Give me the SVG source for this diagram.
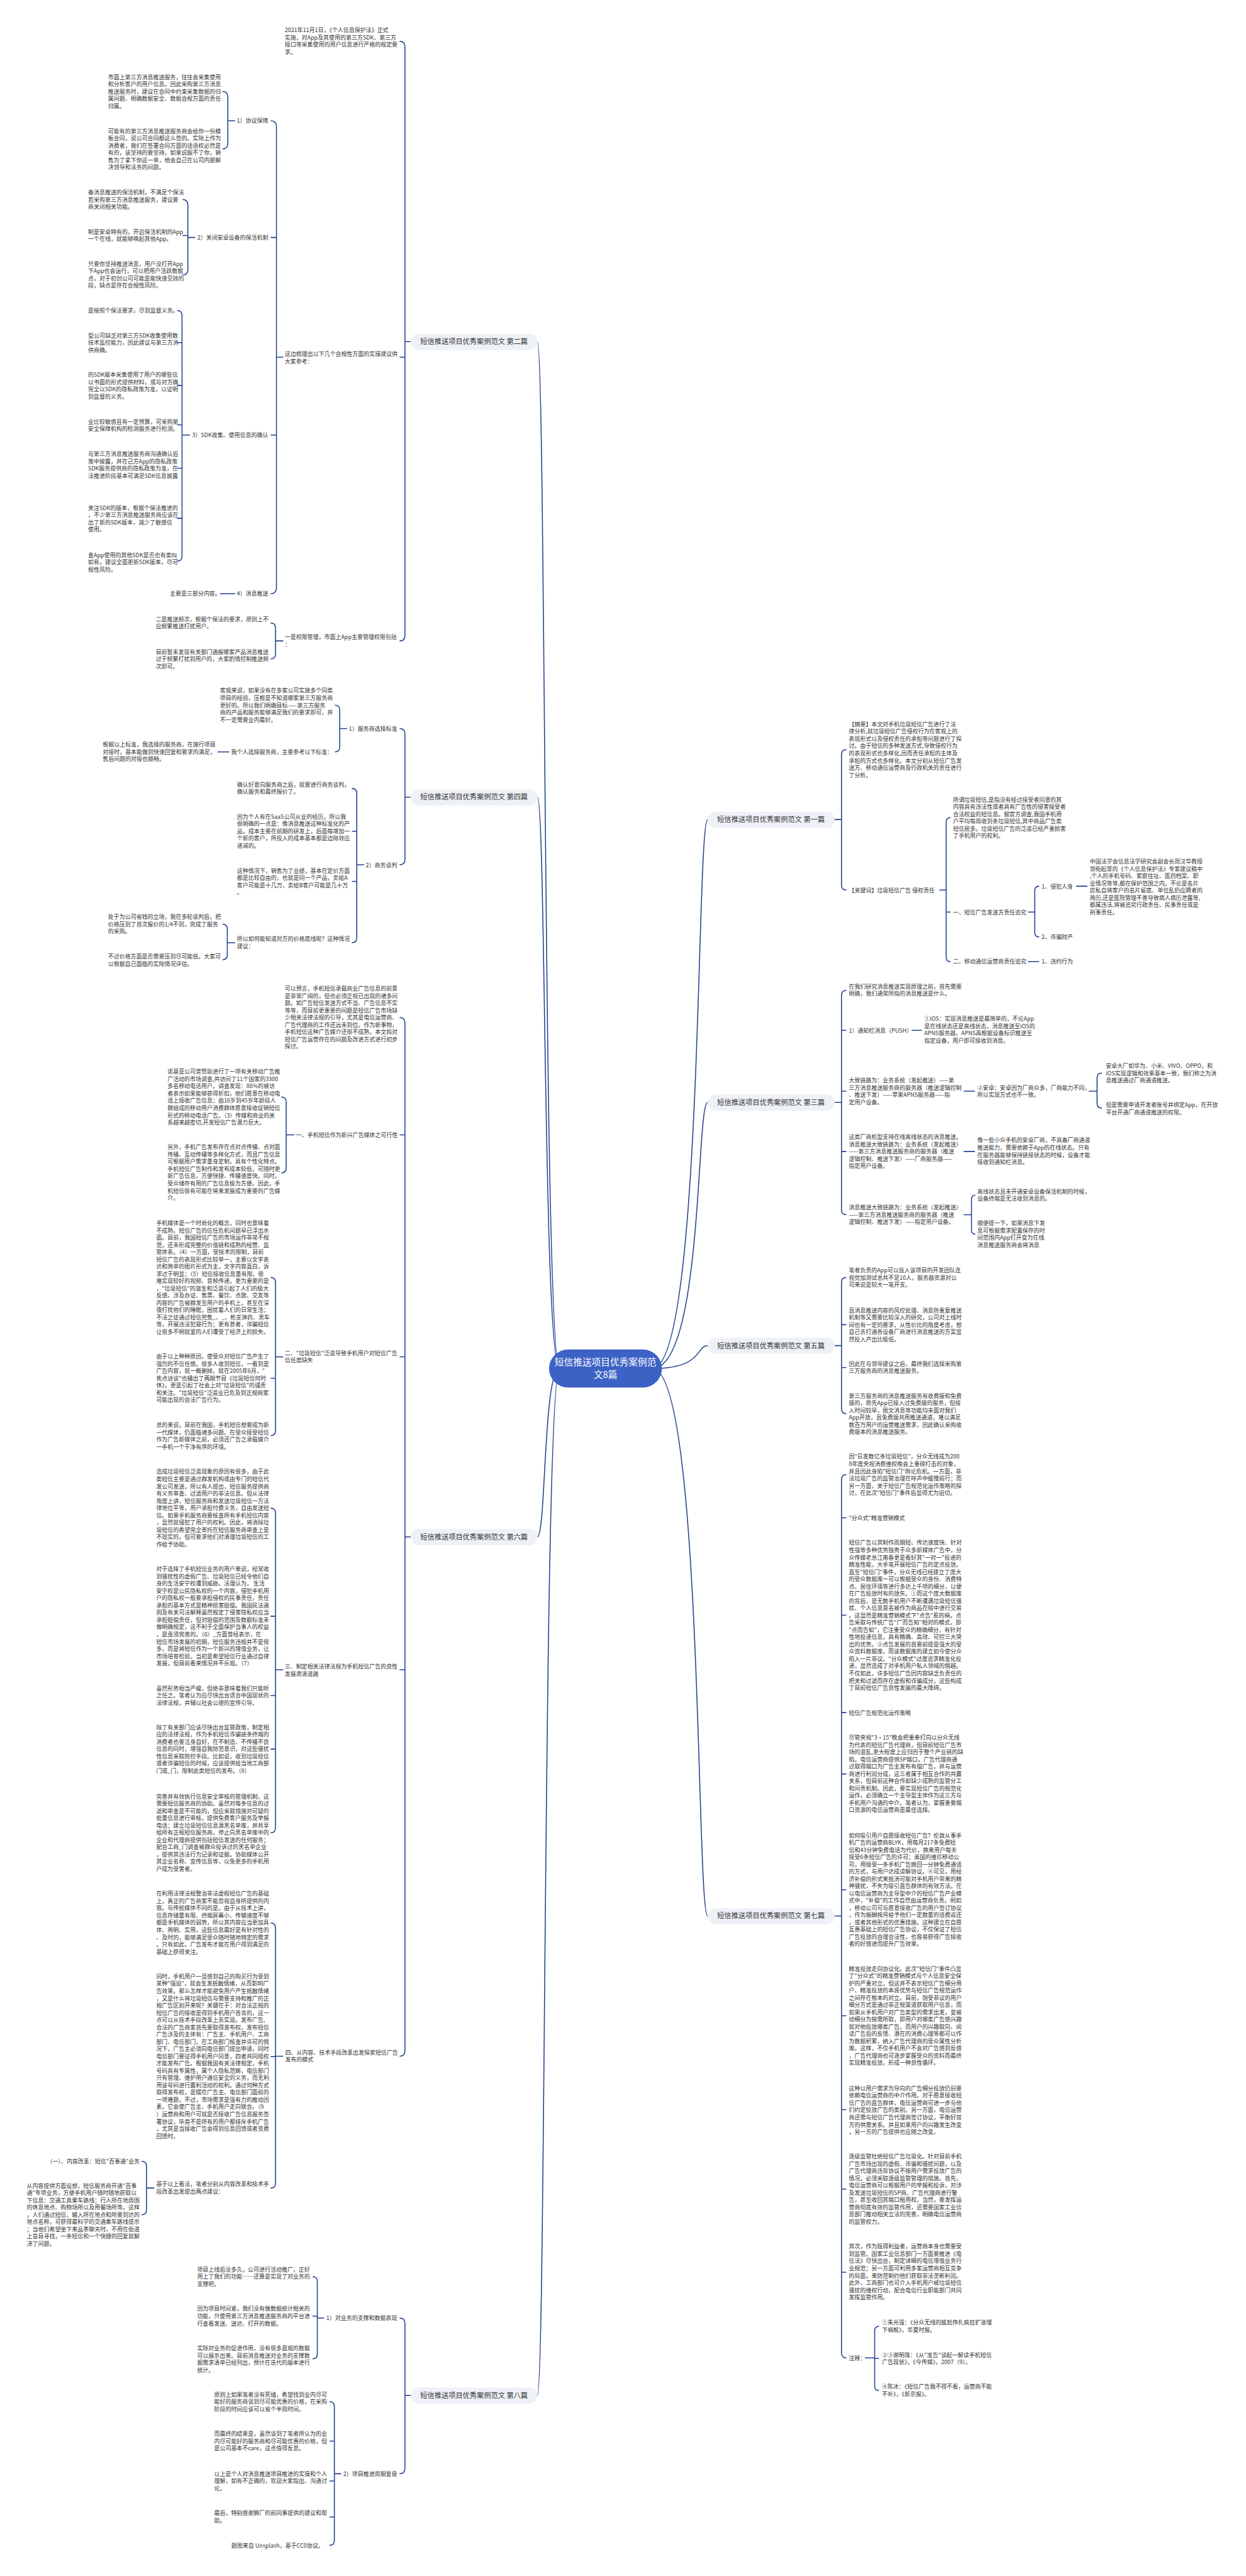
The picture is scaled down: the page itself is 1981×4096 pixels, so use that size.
<svg xmlns="http://www.w3.org/2000/svg" width="1981" height="4096" viewBox="0 0 1981 4096">
<style>
.t{font-family:"Noto Sans CJK SC","Noto Sans",sans-serif;font-size:11.6px;fill:#333}
.e{text-anchor:end}
.b{font-family:"Noto Sans CJK SC","Noto Sans",sans-serif;font-size:14.5px;fill:#333;text-anchor:middle}
.c{font-family:"Noto Sans CJK SC","Noto Sans",sans-serif;font-size:19px;fill:#fff;text-anchor:middle}
.ln{fill:none;stroke:#22418f;stroke-width:2}
.nd{fill:#eef1f6}
</style>
<rect width="1981" height="4096" fill="#fff"/>
<g transform="scale(0.77383)">
<g id="connectors" class="ln">
<path d="M1104,702 C1122,702 1116,2812 1150,2812"/>
<path d="M1104,1638 C1122,1638 1116,2812 1150,2812"/>
<path d="M1104,3158 C1122,3158 1116,2812 1150,2812"/>
<path d="M1104,4922 C1122,4922 1116,2812 1150,2812"/>
<path d="M1340,2812 C1445,2812 1430,1684 1454,1684"/>
<path d="M1340,2812 C1445,2812 1430,2265 1454,2265"/>
<path d="M1340,2812 C1445,2812 1430,2765 1454,2765"/>
<path d="M1340,2812 C1445,2812 1430,3937 1454,3937"/>
<path d="M821,85 Q832,85 832,96 V1306 Q832,1317 821,1317 M821,734 H832 M832,702 H844"/>
<path d="M556,248 Q568,248 568,260 V1208 Q568,1220 556,1220 M556,488 H568 M556,894 H568 M568,734 H582"/>
<path d="M457,188 Q468,188 468,199 V295 Q468,306 457,306 M468,248 H483"/>
<path d="M375,410 Q386,410 386,421 V554 Q386,565 375,565 M375,484 H386 M386,488 H401"/>
<path d="M364,638 Q374,638 374,648 V1143 Q374,1153 364,1153 M364,704 H374 M364,792 H374 M364,873 H374 M364,962 H374 M364,1065 H374 M374,894 H390"/>
<path d="M452,1220 H483"/>
<path d="M556,1280 Q566,1280 566,1290 V1344 Q566,1354 556,1354 M566,1317 H582"/>
<path d="M821,1497 Q832,1497 832,1508 V1766 Q832,1777 821,1777 M832,1638 H844"/>
<path d="M688,1449 Q698,1449 698,1459 V1535 Q698,1545 688,1545 M698,1497 H713"/>
<path d="M447,1545 H471"/>
<path d="M723,1620 Q733,1620 733,1630 V1927 Q733,1937 723,1937 M723,1708 H733 M723,1811 H733 M733,1777 H748"/>
<path d="M457,1899 Q467,1899 467,1909 V1962 Q467,1972 457,1972 M467,1937 H483"/>
<path d="M821,2091 Q832,2091 832,2102 V4214 Q832,4225 821,4225 M821,2332 H832 M821,2788 H832 M821,3431 H832 M832,3158 H844"/>
<path d="M578,2254 Q588,2254 588,2264 V2400 Q588,2410 578,2410 M588,2332 H605"/>
<path d="M556,2625 Q566,2625 566,2635 V2940 Q566,2950 556,2950 M556,2832 H566 M566,2788 H582"/>
<path d="M556,3099 Q566,3099 566,3109 V3756 Q566,3766 556,3766 M556,3321 H566 M556,3484 H566 M556,3594 H566 M566,3431 H582"/>
<path d="M556,3951 Q566,3951 566,3961 V4486 Q566,4496 556,4496 M556,4226 H566 M566,4225 H582"/>
<path d="M291,4441 Q301,4441 301,4451 V4541 Q301,4551 291,4551 M301,4496 H317"/>
<path d="M821,4763 Q832,4763 832,4774 V5072 Q832,5083 821,5083 M832,4922 H844"/>
<path d="M642,4678 Q652,4678 652,4688 V4837 Q652,4847 642,4847 M642,4759 H652 M652,4763 H666"/>
<path d="M677,4935 Q687,4935 687,4945 V5220 Q687,5230 677,5230 M677,5016 H687 M677,5098 H687 M677,5172 H687 M687,5083 H701"/>
<path d="M1739,1540 Q1729,1540 1729,1550 V1819 Q1729,1829 1739,1829 M1715,1684 H1729"/>
<path d="M1953,1680 Q1944,1680 1944,1689 V1967 Q1944,1976 1953,1976 M1944,1874 H1953 M1930,1829 H1944"/>
<path d="M2135,1821 Q2126,1821 2126,1830 V1916 Q2126,1925 2135,1925 M2112,1874 H2126"/>
<path d="M2211,1821 H2234 M2112,1976 H2135"/>
<path d="M1739,2035 Q1729,2035 1729,2045 V2486 Q1729,2496 1739,2496 M1729,2117 H1739 M1729,2242 H1739 M1729,2366 H1739 M1715,2265 H1729"/>
<path d="M1873,2117 H1894 M1980,2242 H2003 M1980,2366 H2003"/>
<path d="M2264,2205 Q2254,2205 2254,2215 V2267 Q2254,2277 2264,2277 M2237,2242 H2254"/>
<path d="M2004,2456 Q1996,2456 1996,2464 V2528 Q1996,2536 2004,2536 M1980,2496 H1996"/>
<path d="M1739,2625 Q1729,2625 1729,2635 V2895 Q1729,2905 1739,2905 M1729,2722 H1739 M1729,2810 H1739 M1715,2765 H1729"/>
<path d="M1739,3030 Q1729,3030 1729,3040 V4835 Q1729,4845 1739,4845 M1729,3119 H1739 M1729,3319 H1739 M1729,3519 H1739 M1729,3645 H1739 M1729,3883 H1739 M1729,4142 H1739 M1729,4335 H1739 M1729,4498 H1739 M1729,4669 H1739 M1715,3937 H1729"/>
<path d="M1806,4780 Q1797,4780 1797,4789 V4903 Q1797,4912 1806,4912 M1797,4846 H1806 M1777,4845 H1797"/>
</g>

<g id="center"><rect x="1128" y="2773" width="232" height="78" rx="39" fill="#3d62c6"/>
<text class="c" x="1244" y="2806">短信推送项目优秀案例范<tspan x="1244" dy="25">文8篇</tspan></text></g>

<g id="b2"><rect class="nd" x="844" y="686" width="260" height="33" rx="16"/><text class="b" x="974" y="707.5">短信推送项目优秀案例范文 第二篇</text></g>
<g id="b4"><rect class="nd" x="844" y="1622" width="260" height="33" rx="16"/><text class="b" x="974" y="1643">短信推送项目优秀案例范文 第四篇</text></g>
<g id="b6"><rect class="nd" x="844" y="3142" width="260" height="33" rx="16"/><text class="b" x="974" y="3163">短信推送项目优秀案例范文 第六篇</text></g>
<g id="b8"><rect class="nd" x="844" y="4906" width="260" height="33" rx="16"/><text class="b" x="974" y="4927">短信推送项目优秀案例范文 第八篇</text></g>
<g id="b1"><rect class="nd" x="1454" y="1668" width="261" height="33" rx="16"/><text class="b" x="1584" y="1689">短信推送项目优秀案例范文 第一篇</text></g>
<g id="b3"><rect class="nd" x="1454" y="2249" width="261" height="33" rx="16"/><text class="b" x="1584" y="2270">短信推送项目优秀案例范文 第三篇</text></g>
<g id="b5"><rect class="nd" x="1454" y="2749" width="261" height="33" rx="16"/><text class="b" x="1584" y="2770">短信推送项目优秀案例范文 第五篇</text></g>
<g id="b7"><rect class="nd" x="1454" y="3921" width="261" height="33" rx="16"/><text class="b" x="1584" y="3942">短信推送项目优秀案例范文 第七篇</text></g>

<g id="p2" class="t">
<text x="585" y="66.4">2021年11月1日，《个人信息保护法》正式<tspan x="585" dy="14.9">实施，对App及其使用的第三方SDK、第三方</tspan><tspan x="585" dy="14.9">接口等采集使用的用户信息进行严格的规定要</tspan><tspan x="585" dy="14.9">求。</tspan></text>
<text x="585" y="731.4">这边梳理出以下几个合规性方面的实操建议供<tspan x="585" dy="14.9">大家参考：</tspan></text>
<text x="585" y="1313.4">一是权限管理，市面上App主要管理权限包括<tspan x="585" dy="14.9">：</tspan></text>
<text class="e" x="551" y="252.4">1）协议保障</text>
<text class="e" x="551" y="492.4">2）关闭安卓设备的保活机制</text>
<text class="e" x="551" y="898.4">3）SDK收集、使用信息的确认</text>
<text class="e" x="551" y="1224.4">4）消息推送</text>
<text x="222" y="162.4">市面上第三方消息推送服务，往往会采集使用<tspan x="222" dy="14.9">和分析客户的用户信息。因此采购第三方消息</tspan><tspan x="222" dy="14.9">推送服务时，建议在合同中约束采集数据的归</tspan><tspan x="222" dy="14.9">属问题、明确数据安全、数据合规方面的责任</tspan><tspan x="222" dy="14.9">归属。</tspan></text>
<text x="222" y="273.4">可能有的第三方消息推送服务商会给你一份模<tspan x="222" dy="14.9">板合同，说公司合同都这么签的。实际上作为</tspan><tspan x="222" dy="14.9">消费者，我们在签署合同方面的话语权必然是</tspan><tspan x="222" dy="14.9">有的，该坚持的要坚持，如果说服不了你，销</tspan><tspan x="222" dy="14.9">售为了拿下你这一单，他会自己在公司内部解</tspan><tspan x="222" dy="14.9">决领导和法务的问题。</tspan></text>
<text x="181" y="399.4">备消息推送的保活机制，不满足个保法<tspan x="181" dy="14.9">若采购第三方消息推送服务，建议要</tspan><tspan x="181" dy="14.9">商关闭相关功能。</tspan></text>
<text x="181" y="480.4">制是安卓特有的，开启保活机制的App<tspan x="181" dy="14.9">一个在线，就能够唤起其他App。</tspan></text>
<text x="181" y="546.4">只要你坚持推送消息，用户没打开App<tspan x="181" dy="14.9">下App也会运行，可以把用户活跃数据</tspan><tspan x="181" dy="14.9">点，对于初创公司可能是能快速见效的</tspan><tspan x="181" dy="14.9">段，缺点是存在合规性风险。</tspan></text>
<text x="181" y="642.4">是按照个保法要求，尽到监督义务。</text>
<text x="181" y="693.4">型公司缺乏对第三方SDK收集使用数<tspan x="181" dy="14.9">技术监控能力，因此建议与第三方消</tspan><tspan x="181" dy="14.9">供商确。</tspan></text>
<text x="181" y="774.4">的SDK版本采集使用了用户的哪些信<tspan x="181" dy="14.9">以书面的形式提供材料，或与对方确</tspan><tspan x="181" dy="14.9">完全以SDK的隐私政策为准，以证明</tspan><tspan x="181" dy="14.9">到监督的义务。</tspan></text>
<text x="181" y="870.4">业比较敏感且有一定预算，可采购第<tspan x="181" dy="14.9">安全保障机构的检测服务进行检测。</tspan></text>
<text x="181" y="937.4">与第三方消息推送服务商沟通确认后<tspan x="181" dy="14.9">策中披露，并在己方App的隐私政策</tspan><tspan x="181" dy="14.9">SDK服务提供商的隐私政策为准，在</tspan><tspan x="181" dy="14.9">法推进阶段基本可满足SDK信息披露</tspan></text>
<text x="181" y="1047.4">关注SDK的版本，根据个保法推进的<tspan x="181" dy="14.9">，不少第三方消息推送服务商应该在</tspan><tspan x="181" dy="14.9">出了新的SDK版本，减少了敏感信</tspan><tspan x="181" dy="14.9">使用。</tspan></text>
<text x="181" y="1144.4">查App使用的其他SDK是否也有类似<tspan x="181" dy="14.9">如有，建议全面更新SDK版本，尽可</tspan><tspan x="181" dy="14.9">规性风险。</tspan></text>
<text x="349" y="1224.4">主要是三部分内容。</text>
<text x="320" y="1276.4">二是推送频次，根据个保法的要求，原则上不<tspan x="320" dy="14.9">应频繁推送打扰用户。</tspan></text>
<text x="320" y="1343.4">目前暂未发现有关部门通报哪家产品消息推送<tspan x="320" dy="14.9">过于频繁打扰到用户的，大家酌情控制推送频</tspan><tspan x="320" dy="14.9">次即可。</tspan></text>
</g>

<g id="p4" class="t">
<text class="e" x="816" y="1501.4">1）服务商选择标准</text>
<text class="e" x="816" y="1781.4">2）商务谈判</text>
<text x="452" y="1423.4">客观来说，如果没有在多家公司实施多个同类<tspan x="452" dy="14.9">项目的经验，压根是不知道哪家第三方服务商</tspan><tspan x="452" dy="14.9">更好的。所以我们明确目标——第三方服务</tspan><tspan x="452" dy="14.9">商的产品和服务能够满足我们的要求即可，并</tspan><tspan x="452" dy="14.9">不一定需要业内最好。</tspan></text>
<text x="475" y="1549.4">我个人选择服务商，主要参考以下标准：</text>
<text x="211" y="1534.4">根据以上标准，我选择的服务商，在施行项目<tspan x="211" dy="14.9">对接时，基本能做到快速回复和要求的满足，</tspan><tspan x="211" dy="14.9">售后问题的对接也顺畅。</tspan></text>
<text x="487" y="1616.4">确认好意向服务商之后，就要进行商务谈判，<tspan x="487" dy="14.9">确认服务和最终报价了。</tspan></text>
<text x="487" y="1682.4">因为个人有在SaaS公司从业的经历，所以我<tspan x="487" dy="14.9">很明确的一点是：像消息推送这种标准化的产</tspan><tspan x="487" dy="14.9">品，成本主要在前期的研发上，后面每增加一</tspan><tspan x="487" dy="14.9">个新的客户，所投入的成本基本都是边际效应</tspan><tspan x="487" dy="14.9">递减的。</tspan></text>
<text x="487" y="1793.4">这种情况下，销售为了业绩，基本在定价方面<tspan x="487" dy="14.9">都是比较自由的，也就是同一个产品，卖给A</tspan><tspan x="487" dy="14.9">客户可能是十几万，卖给B客户可能是几十万</tspan><tspan x="487" dy="14.9">。</tspan></text>
<text x="487" y="1933.4">所以如何能知道对方的价格底线呢？这种情况<tspan x="487" dy="14.9">建议：</tspan></text>
<text x="222" y="1888.4">处于为公司省钱的立场，我在多轮谈判后，把<tspan x="222" dy="14.9">价格压到了首次报价的1/4不到，完成了服务</tspan><tspan x="222" dy="14.9">的采购。</tspan></text>
<text x="222" y="1969.4">不过价格方面是否需要压到尽可能低，大家可<tspan x="222" dy="14.9">以根据自己面临的实际情况评估。</tspan></text>
</g>

<g id="p6" class="t">
<text x="585" y="2035.4">可以预言，手机短信承载商业广告信息的前景<tspan x="585" dy="14.9">是非常广阔的，但也必须正视已出现的诸多问</tspan><tspan x="585" dy="14.9">题。如广告短信发送方式不当、广告信息不实</tspan><tspan x="585" dy="14.9">等等，而目前更重要的问题是短信广告市场缺</tspan><tspan x="585" dy="14.9">少相关法律法规的引导，尤其是电信运营商、</tspan><tspan x="585" dy="14.9">广告代理商的工作还远未到位。作为新事物，</tspan><tspan x="585" dy="14.9">手机短信这种广告媒介还很不成熟，本文拟对</tspan><tspan x="585" dy="14.9">短信广告运营存在的问题及改进方式进行初步</tspan><tspan x="585" dy="14.9">探讨。</tspan></text>
<text class="e" x="817" y="2336.4">一、手机短信作为新兴广告媒体之可行性</text>
<text x="344" y="2206.4">诺基亚公司曾赞助进行了一项有关移动广告推<tspan x="344" dy="14.9">广活动的市场调查,共访问了11个国家的3300</tspan><tspan x="344" dy="14.9">多名移动电话用户。调查发现：86%的被访</tspan><tspan x="344" dy="14.9">者表示如果能够获得折扣，他们愿意在移动电</tspan><tspan x="344" dy="14.9">话上接收广告信息；由16岁到45岁年龄段人</tspan><tspan x="344" dy="14.9">群组成的移动用户消费群体愿意接收促销短信</tspan><tspan x="344" dy="14.9">形式的移动电话广告。（3）传媒和商业的关</tspan><tspan x="344" dy="14.9">系越来越密切,开发短信广告潜力巨大。</tspan></text>
<text x="344" y="2361.4">另外，手机广告发布存在点对点传播、点对面<tspan x="344" dy="14.9">传播、互动传播等多样化方式，而且广告信息</tspan><tspan x="344" dy="14.9">可根据用户需求量身定制，具有个性化特点。</tspan><tspan x="344" dy="14.9">手机短信广告制作和发布成本较低，可随时更</tspan><tspan x="344" dy="14.9">新广告信息，方便快捷、传播速度快。同时，</tspan><tspan x="344" dy="14.9">受众储存有用的广告信息极为方便。因此，手</tspan><tspan x="344" dy="14.9">机短信很有可能在将来发展成为重要的广告媒</tspan><tspan x="344" dy="14.9">介。</tspan></text>
<text x="585" y="2784.4">二、"垃圾短信"泛滥导致手机用户对短信广告<tspan x="585" dy="14.9">信任度缺失</tspan></text>
<text x="321" y="2517.4">手机媒体是一个时尚化的概念，同时也意味着<tspan x="321" dy="14.9">不成熟。短信广告的信任危机问题早已浮出水</tspan><tspan x="321" dy="14.9">面。目前，我国短信广告的市场运作非常不规</tspan><tspan x="321" dy="14.9">范，还未形成完整的价值链和成熟的经营、监</tspan><tspan x="321" dy="14.9">管体系。（4）一方面，受技术的限制，目前</tspan><tspan x="321" dy="14.9">短信广告的表现形式比较单一，主要以文字表</tspan><tspan x="321" dy="14.9">达和简单的图片形式为主，文字内容直白，诉</tspan><tspan x="321" dy="14.9">求过于明显；（5）短信接收信息量有限，很</tspan><tspan x="321" dy="14.9">难实现较好的视频、音频传递。更为重要的是</tspan><tspan x="321" dy="14.9">，"垃圾短信"的滋生和泛滥引起了人们的极大</tspan><tspan x="321" dy="14.9">反感。涉及办证、售票、餐饮、点歌、交友等</tspan><tspan x="321" dy="14.9">内容的广告被群发至用户的手机上，甚至在深</tspan><tspan x="321" dy="14.9">夜打扰他们的睡眠，困扰着人们的日常生活；</tspan><tspan x="321" dy="14.9">不法之徒通过短信兜售_、_、枪支弹药、黑车</tspan><tspan x="321" dy="14.9">等，开展违法犯罪行为；更有甚者，诈骗短信</tspan><tspan x="321" dy="14.9">让很多不明就里的人们遭受了经济上的损失。</tspan></text>
<text x="321" y="2791.4">由于以上种种原因，使受众对短信广告产生了<tspan x="321" dy="14.9">强烈的不信任感。很多人收到短信，一看到是</tspan><tspan x="321" dy="14.9">广告内容，就一概删掉。就在2005年6月，"</tspan><tspan x="321" dy="14.9">焦点访谈"也播出了两期节目《垃圾短信何时</tspan><tspan x="321" dy="14.9">休》，更是引起了社会上对"垃圾短信"的谴责</tspan><tspan x="321" dy="14.9">和关注。"垃圾短信"泛滥业已危及到正规商家</tspan><tspan x="321" dy="14.9">可能出现的合法广告行为。</tspan></text>
<text x="321" y="2932.4">总的来说，目前在我国，手机短信想要成为新<tspan x="321" dy="14.9">一代媒体，仍面临诸多问题。在受众接受短信</tspan><tspan x="321" dy="14.9">作为广告新媒体之前，必须还广告之承载媒介</tspan><tspan x="321" dy="14.9">一手机一个干净有序的环境。</tspan></text>
<text x="585" y="3428.4">三、制定相关法律法规为手机短信广告的良性<tspan x="585" dy="14.9">发展肃清道路</tspan></text>
<text x="321" y="3028.4">造成垃圾短信泛滥现象的原因有很多，由于此<tspan x="321" dy="14.9">类短信主要是通过群发机构或由专门的短信代</tspan><tspan x="321" dy="14.9">发公司发送，所以有人提出，短信服务提供商</tspan><tspan x="321" dy="14.9">有义务审查、过滤用户的非法信息。但从法律</tspan><tspan x="321" dy="14.9">角度上讲，短信服务商和发送垃圾短信一方法</tspan><tspan x="321" dy="14.9">律地位平等，用户承担付费义务，自由发送短</tspan><tspan x="321" dy="14.9">信。如果手机服务商要核查所有手机短信内容</tspan><tspan x="321" dy="14.9">，显然就侵犯了用户的权利。因此，将消除垃</tspan><tspan x="321" dy="14.9">圾短信的希望完全寄托在短信服务商审查上是</tspan><tspan x="321" dy="14.9">不现实的，但可要求他们对清理垃圾短信的工</tspan><tspan x="321" dy="14.9">作给予协助。</tspan></text>
<text x="321" y="3228.4">对于选择了手机短信业务的用户来说，经常收<tspan x="321" dy="14.9">到骚扰性的虚假广告、垃圾短信已经令他们自</tspan><tspan x="321" dy="14.9">身的生活安宁权遭到威胁。法理认为， 生活</tspan><tspan x="321" dy="14.9">安宁权是公民隐私权的一个内容。侵犯手机用</tspan><tspan x="321" dy="14.9">户的隐私权一般要承担侵权的民事责任，责任</tspan><tspan x="321" dy="14.9">承担的基本方式是精神损害赔偿。我国民法通</tspan><tspan x="321" dy="14.9">则及有关司法解释虽然规定了侵害隐私权应当</tspan><tspan x="321" dy="14.9">承担赔偿责任，但对赔偿的范围及数额标准未</tspan><tspan x="321" dy="14.9">做明确规定，这不利于全面保护当事人的权益</tspan><tspan x="321" dy="14.9">，是亟须完善的。（6）_方面曾经表示，在</tspan><tspan x="321" dy="14.9">短信市场发展的初期，短信服务违规并不是很</tspan><tspan x="321" dy="14.9">多，而是将短信作为一个新兴的增值业务，让</tspan><tspan x="321" dy="14.9">市场培育检验。当初是希望短信行业通过自律</tspan><tspan x="321" dy="14.9">发展，但目前看来情况并不乐观。（7）</tspan></text>
<text x="321" y="3473.4">虽然形势相当严峻，但绝非意味着我们只能听<tspan x="321" dy="14.9">之任之。笔者认为应尽快出台适合中国现状的</tspan><tspan x="321" dy="14.9">法律法规，并辅以社会公德的宣传引导。</tspan></text>
<text x="321" y="3553.4">除了有关部门应该尽快出台监管政策，制定相<tspan x="321" dy="14.9">应的法律法规，作为手机短信诈骗链条终端的</tspan><tspan x="321" dy="14.9">消费者也要洁身自好，在不制造、不传播不良</tspan><tspan x="321" dy="14.9">信息的同时，增强自我防范意识，对这些骚扰</tspan><tspan x="321" dy="14.9">性信息采取防控手段。比如说，收到垃圾短信</tspan><tspan x="321" dy="14.9">或者诈骗短信的时候，应该提供给当地工商部</tspan><tspan x="321" dy="14.9">门或_门，限制此类短信的发布。（8）</tspan></text>
<text x="321" y="3695.4">完善并有效执行信息安全审核的管理机制，这<tspan x="321" dy="14.9">需要短信服务商的协助。虽然对每条信息的过</tspan><tspan x="321" dy="14.9">滤和审查是不可能的，但应采取措施对可疑的</tspan><tspan x="321" dy="14.9">批量信息进行审核，提供免费客户服务及举报</tspan><tspan x="321" dy="14.9">电话；建立垃圾短信信息源黑名单库，并共享</tspan><tspan x="321" dy="14.9">给所有正规短信服务商，停止向黑名单库中的</tspan><tspan x="321" dy="14.9">企业和代理商提供包括短信发送的任何服务；</tspan><tspan x="321" dy="14.9">配合工商_门调查被群众投诉过的黑名单企业</tspan><tspan x="321" dy="14.9">，提供其违法行为记录和证据。协助媒体公开</tspan><tspan x="321" dy="14.9">其企业名称、宣传信息等，以免更多的手机用</tspan><tspan x="321" dy="14.9">户成为受害者。</tspan></text>
<text x="586" y="4221.4">四、从内容、技术手段改革出发探索短信广告<tspan x="586" dy="14.9">发布的模式</tspan></text>
<text x="321" y="3895.4">在利用法律法规整治非法虚假短信广告的基础<tspan x="321" dy="14.9">上，真正的广告商家不能忽视自身所提供的内</tspan><tspan x="321" dy="14.9">容。与传统媒体不同的是，由于从技术上讲，</tspan><tspan x="321" dy="14.9">信息存储量有限、终端屏幕小、传输速度不够</tspan><tspan x="321" dy="14.9">都是手机媒体的弱势，所以其内容应当更加具</tspan><tspan x="321" dy="14.9">体、简明、实用，这些信息最好是有针对性的</tspan><tspan x="321" dy="14.9">、及时的，能够满足受众随时随地特定的需求</tspan><tspan x="321" dy="14.9">。只有如此，广告发布才能在用户得到满足的</tspan><tspan x="321" dy="14.9">基础上获得关注。</tspan></text>
<text x="321" y="4065.4">同时，手机用户一旦感到自己的购买行为受到<tspan x="321" dy="14.9">某种"强迫"，就会生发抵触情绪，从而影响广</tspan><tspan x="321" dy="14.9">告效果。那么怎样才能避免用户产生抵触情绪</tspan><tspan x="321" dy="14.9">，又是什么将垃圾短信与需要支持和推广的正</tspan><tspan x="321" dy="14.9">规广告区别开来呢？关键在于：对合法正规的</tspan><tspan x="321" dy="14.9">短信广告的接收是得到手机用户首肯的，这一</tspan><tspan x="321" dy="14.9">点可以从技术手段改革上去实现。发布广告,</tspan><tspan x="321" dy="14.9">合法的广告商家首先要取得发布权。发布短信</tspan><tspan x="321" dy="14.9">广告涉及的主体有：广告主、手机用户、工商</tspan><tspan x="321" dy="14.9">部门、电信部门，在工商部门核查并许可的情</tspan><tspan x="321" dy="14.9">况下，广告主必须向电信部门提出申请，同时</tspan><tspan x="321" dy="14.9">电信部门要征得手机用户同意，四者共同授权</tspan><tspan x="321" dy="14.9">才能发布广告。根据我国有关法律规定，手机</tspan><tspan x="321" dy="14.9">号码具有专属性，属个人隐私范畴，电信部门</tspan><tspan x="321" dy="14.9">只有管理、维护用户通信安全的义务，而无利</tspan><tspan x="321" dy="14.9">用该号码进行赢利活动的权利。通过何种方式</tspan><tspan x="321" dy="14.9">取得发布权，是摆在广告主、电信部门面前的</tspan><tspan x="321" dy="14.9">一项难题，不过，市场需求是强有力的推动因</tspan><tspan x="321" dy="14.9">素，它会使广告主、手机用户走向联合。（9</tspan><tspan x="321" dy="14.9">）运营商和用户可就是否接收广告信息服务签</tspan><tspan x="321" dy="14.9">署协议，毕竟不是所有的用户都排斥手机广告</tspan><tspan x="321" dy="14.9">，尤其是当接收广告会得到信息回馈或者资费</tspan><tspan x="321" dy="14.9">回馈时。</tspan></text>
<text x="321" y="4492.4">基于以上看法，笔者分别从内容改革和技术手<tspan x="321" dy="14.9">段改革出发提出两点建议：</tspan></text>
<text class="e" x="287" y="4445.4">（一）、内容改革：短信"百事通"业务</text>
<text x="55" y="4495.4">从内容提供方面设想，短信服务商开通"百事<tspan x="55" dy="14.9">通"专项业务，方便手机用户随时随地获取以</tspan><tspan x="55" dy="14.9">下信息：交通工具乘车路线；行人所在地周围</tspan><tspan x="55" dy="14.9">的休息地点、购物场所以及用餐场所等。这样</tspan><tspan x="55" dy="14.9">，人们通过短信，输入所在地点和所要到达的</tspan><tspan x="55" dy="14.9">地点名称，可获得最科学的交通乘车路线提示</tspan><tspan x="55" dy="14.9">；当他们希望坐下来品茶聊天时，不用在街道</tspan><tspan x="55" dy="14.9">上盲目寻找，一条短信和一个快捷的回复就解</tspan><tspan x="55" dy="14.9">决了问题。</tspan></text>
</g>

<g id="p8" class="t">
<text class="e" x="816" y="4767.4">1）对业务的支撑和数据表现</text>
<text class="e" x="816" y="5087.4">2）项目推进周期复盘</text>
<text x="405" y="4667.4">项目上线后没多久，公司进行活动推广，正好<tspan x="405" dy="14.9">用上了我们的功能……还算是实现了对业务的</tspan><tspan x="405" dy="14.9">支撑吧。</tspan></text>
<text x="405" y="4748.4">因为项目时间紧，我们没有做数据统计相关的<tspan x="405" dy="14.9">功能，只使用第三方消息推送服务商的平台进</tspan><tspan x="405" dy="14.9">行查看发送、送达、打开的数据。</tspan></text>
<text x="405" y="4829.4">实际对业务的促进作用，没有很多直观的数据<tspan x="405" dy="14.9">可以展示出来。目前消息推送对业务的支撑数</tspan><tspan x="405" dy="14.9">据需求清单已经列出，预计在迭代的版本进行</tspan><tspan x="405" dy="14.9">统计。</tspan></text>
<text x="440" y="4924.4">原则上如果笔者没有死磕，希望找到业内尽可<tspan x="440" dy="14.9">能好的服务商谈到尽可能优惠的价格，在采购</tspan><tspan x="440" dy="14.9">阶段的时间应该可以省个半周时间。</tspan></text>
<text x="440" y="5005.4">而最终的结果是，虽然谈到了笔者所认为的业<tspan x="440" dy="14.9">内尽可能好的服务商和尽可能优惠的价格，但</tspan><tspan x="440" dy="14.9">是公司基本不care，这点值得反思。</tspan></text>
<text x="440" y="5087.4">以上是个人对消息推送项目推进的实操和个人<tspan x="440" dy="14.9">理解，如有不正确的，欢迎大家指出、沟通讨</tspan><tspan x="440" dy="14.9">论。</tspan></text>
<text x="440" y="5168.4">最后，特别感谢狮厂的前同事提供的建议和帮<tspan x="440" dy="14.9">助。</tspan></text>
<text class="e" x="665" y="5234.4">题图来自 Unsplash，基于CC0协议。</text>
</g>

<g id="p1" class="t">
<text x="1744" y="1492.4">【摘要】本文对手机垃圾短信广告进行了法<tspan x="1744" dy="14.9">律分析,就垃圾短信广告侵权行为在客观上的</tspan><tspan x="1744" dy="14.9">表现形式以及侵权责任的承担等问题进行了探</tspan><tspan x="1744" dy="14.9">讨。由于短信的多种发送方式,导致侵权行为</tspan><tspan x="1744" dy="14.9">的表现形式也多样化,因而责任承担的主体及</tspan><tspan x="1744" dy="14.9">承担的方式也多样化。本文分别从短信广告发</tspan><tspan x="1744" dy="14.9">送方、移动通信运营商及行政机关的责任进行</tspan><tspan x="1744" dy="14.9">了分析。</tspan></text>
<text x="1744" y="1833.4">【关键词】垃圾短信广告 侵权责任</text>
<text x="1958" y="1647.4">所谓垃圾短信,是指没有经过接受者同意的其<tspan x="1958" dy="14.9">内容具有违法性或者具有广告性的侵害接受者</tspan><tspan x="1958" dy="14.9">合法权益的短信息。据官方调查,我国手机用</tspan><tspan x="1958" dy="14.9">户平均每周收到条垃圾短信,其中商品广告类</tspan><tspan x="1958" dy="14.9">短信居多。垃圾短信广告的泛滥已经严重损害</tspan><tspan x="1958" dy="14.9">了手机用户的权利。</tspan></text>
<text x="1958" y="1878.4">一、短信广告发送方责任追究</text>
<text x="1958" y="1980.4">二、移动通信运营商责任追究</text>
<text x="2140" y="1825.4">1、侵犯人身</text>
<text x="2140" y="1929.4">2、诈骗财产</text>
<text x="2140" y="1980.4">1、违约行为</text>
<text x="2239" y="1774.4">中国法学会信息法学研究会副会长周汉华教授<tspan x="2239" dy="14.9">领衔起草的《个人信息保护法》专家建议稿中</tspan><tspan x="2239" dy="14.9">,个人的手机号码、家庭住址、医药档案、职</tspan><tspan x="2239" dy="14.9">业情况等等,都在保护范围之内。不论是名片</tspan><tspan x="2239" dy="14.9">店私自将客户的名片留底、单位乱扔应聘者的</tspan><tspan x="2239" dy="14.9">简历,还是医院管理不善导致病人病历泄露等,</tspan><tspan x="2239" dy="14.9">都属违法,将被追究行政责任、民事责任或是</tspan><tspan x="2239" dy="14.9">刑事责任。</tspan></text>
</g>

<g id="p3" class="t">
<text x="1744" y="2031.4">在我们研究消息推送实现原理之前，首先需要<tspan x="1744" dy="14.9">明确，我们通常所指的消息推送是什么。</tspan></text>
<text x="1744" y="2121.4">1）通知栏消息（PUSH）</text>
<text x="1899" y="2097.4">①iOS：实现消息推送是最简单的，不论App<tspan x="1899" dy="14.9">是在线状态还是离线状态，消息推送至iOS的</tspan><tspan x="1899" dy="14.9">APNS服务器，APNS再根据设备标识推送至</tspan><tspan x="1899" dy="14.9">指定设备，用户即可接收到消息。</tspan></text>
<text x="1744" y="2224.4">大致链路为：业务系统（发起推送）——第<tspan x="1744" dy="14.9">三方消息推送服务商的服务器（推送逻辑控制</tspan><tspan x="1744" dy="14.9">、推送下发）——苹果APNS服务器——指</tspan><tspan x="1744" dy="14.9">定用户设备。</tspan></text>
<text x="2008" y="2239.4">②安卓：安卓因为厂商众多，厂商能力不同，<tspan x="2008" dy="14.9">所以实现方式也不一致。</tspan></text>
<text x="2272" y="2194.4">安卓大厂如华为、小米、VIVO、OPPO，和<tspan x="2272" dy="14.9">iOS实现逻辑和效果基本一致，我们称之为消</tspan><tspan x="2272" dy="14.9">息推送通过厂商通道推送。</tspan></text>
<text x="2272" y="2274.4">但是需要申请开发者账号并绑定App，在开放<tspan x="2272" dy="14.9">平台开通厂商通道推送的权限。</tspan></text>
<text x="1744" y="2340.4">这类厂商机型支持在线离线状态的消息推送。<tspan x="1744" dy="14.9">消息推送大致链路为：业务系统（发起推送）</tspan><tspan x="1744" dy="14.9">——第三方消息推送服务商的服务器（推送</tspan><tspan x="1744" dy="14.9">逻辑控制、推送下发）——厂商服务器——</tspan><tspan x="1744" dy="14.9">指定用户设备。</tspan></text>
<text x="2008" y="2347.4">像一些小众手机的安卓厂商，不具备厂商通道<tspan x="2008" dy="14.9">推送能力，需要依赖于App的在线状态。只有</tspan><tspan x="2008" dy="14.9">在服务器能够保持链接状态的时候，设备才能</tspan><tspan x="2008" dy="14.9">接收到通知栏消息。</tspan></text>
<text x="1744" y="2485.4">消息推送大致链路为：业务系统（发起推送）<tspan x="1744" dy="14.9">——第三方消息推送服务商的服务器（推送</tspan><tspan x="1744" dy="14.9">逻辑控制、推送下发）——指定用户设备。</tspan></text>
<text x="2008" y="2452.4">离线状态且未开通安卓设备保活机制的时候，<tspan x="2008" dy="14.9">设备终端是无法收到消息的。</tspan></text>
<text x="2008" y="2517.4">顺便提一下，如果消息下发<tspan x="2008" dy="14.9">息可根据需求配置保存的时</tspan><tspan x="2008" dy="14.9">间范围内App打开变为在线</tspan><tspan x="2008" dy="14.9">消息推送服务商会将消息</tspan></text>
</g>

<g id="p5" class="t">
<text x="1744" y="2614.4">笔者负责的App可以投入该项目的开发团队连<tspan x="1744" dy="14.9">视觉加测试总共不足10人，服务器资源对公</tspan><tspan x="1744" dy="14.9">司来说是较大一笔开支。</tspan></text>
<text x="1744" y="2696.4">且消息推送内容的风控处理、消息防重复推送<tspan x="1744" dy="14.9">机制等又需要比较深入的研究，公司对上线时</tspan><tspan x="1744" dy="14.9">间也有一定的要求，从性价比的角度考虑，想</tspan><tspan x="1744" dy="14.9">自己去打通各设备厂商进行消息推送的方案显</tspan><tspan x="1744" dy="14.9">然投入产出比极低。</tspan></text>
<text x="1744" y="2806.4">因此在与领导建议之后，最终我们选择采购第<tspan x="1744" dy="14.9">三方服务商的消息推送服务。</tspan></text>
<text x="1744" y="2872.4">第三方服务商的消息推送服务有收费版和免费<tspan x="1744" dy="14.9">版的，原先App已接入过免费版的服务，但接</tspan><tspan x="1744" dy="14.9">入时间较早，图文消息等功能均未面对我们</tspan><tspan x="1744" dy="14.9">App开放，且免费版共用推送通道，难以满足</tspan><tspan x="1744" dy="14.9">数百万用户的运营推送需求，因此确认采购收</tspan><tspan x="1744" dy="14.9">费版本的消息推送服务。</tspan></text>
</g>

<g id="p7" class="t">
<text x="1744" y="2997.4">因"日发数亿条垃圾短信"，分众无线成为200<tspan x="1744" dy="14.9">8年度央视消费维权晚会上重磅打击的对象，</tspan><tspan x="1744" dy="14.9">并且因此身陷"短信门"舆论危机。一方面，非</tspan><tspan x="1744" dy="14.9">法垃圾广告的监管治理在呼声中缓慢前行；而</tspan><tspan x="1744" dy="14.9">另一方面，关于短信广告规范化运作策略的探</tspan><tspan x="1744" dy="14.9">讨，在此次"短信门"事件后显得尤为迫切。</tspan></text>
<text x="1744" y="3123.4">"分众式"精准营销模式</text>
<text x="1744" y="3174.4">短信广告以其制作周期短、传达速度快、针对<tspan x="1744" dy="14.9">性强等多种优势独秀于众多新媒体广告中，分</tspan><tspan x="1744" dy="14.9">众传媒老总江南春更是看好其"一对一"投递的</tspan><tspan x="1744" dy="14.9">精准性能，大手笔开展短信广告的定点投放。</tspan><tspan x="1744" dy="14.9">直至"短信门"事件，分众无线已经建立了庞大</tspan><tspan x="1744" dy="14.9">的受众数据库一可以根据受众的身份、消费特</tspan><tspan x="1744" dy="14.9">点、居住环境等进行多达上千项的细分，以便</tspan><tspan x="1744" dy="14.9">在广告投放时有的放矢。①而这个庞大数据库</tspan><tspan x="1744" dy="14.9">的背后，是无数手机用户不断遭遇垃圾短信骚</tspan><tspan x="1744" dy="14.9">扰、个人信息莫名被作为商品在暗中进行交易</tspan><tspan x="1744" dy="14.9">。这显然是精准营销模式下"点告"惹的祸，点</tspan><tspan x="1744" dy="14.9">告采取与传统广告"广而告知"相对的模式，即</tspan><tspan x="1744" dy="14.9">"点而告知"，它注重受众的精确细分，有针对</tspan><tspan x="1744" dy="14.9">性地投递信息，具有精确、高效、可控三大突</tspan><tspan x="1744" dy="14.9">出的优势。②点告发展的首要前提是强大的受</tspan><tspan x="1744" dy="14.9">众资料数据库，而该数据库的建立如今使分众</tspan><tspan x="1744" dy="14.9">陷入一片非议。"分众模式"过度追求精准化投</tspan><tspan x="1744" dy="14.9">递，显然造成了对手机用户私人领域的僭越。</tspan><tspan x="1744" dy="14.9">不仅如此，许多短信广告因内容缺乏负责任的</tspan><tspan x="1744" dy="14.9">把关和过滤而存在虚假和诈骗成分，这些构成</tspan><tspan x="1744" dy="14.9">了目前短信广告良性发展的最大障碍。</tspan></text>
<text x="1744" y="3523.4">短信广告规范化运作策略</text>
<text x="1744" y="3574.4">尽管央视"3·15"晚会把重拳打向以分众无线<tspan x="1744" dy="14.9">为代表的短信广告代理商，但目前短信广告市</tspan><tspan x="1744" dy="14.9">场的混乱,更大程度上应归因于整个产业链的缺</tspan><tspan x="1744" dy="14.9">陷。电信运营商提供SP端口，广告代理商通</tspan><tspan x="1744" dy="14.9">过取得端口为广告主发布有偿广告，并与运营</tspan><tspan x="1744" dy="14.9">商进行利润分成，这三者属于相互合作的共赢</tspan><tspan x="1744" dy="14.9">关系，但目前这种合作却缺少成熟的监管分工</tspan><tspan x="1744" dy="14.9">和问责机制。因此，要实现短信广告的规范化</tspan><tspan x="1744" dy="14.9">运作，必须确立一个主导型主体作为这三方与</tspan><tspan x="1744" dy="14.9">手机用户沟通的中介。笔者认为，掌握重要端</tspan><tspan x="1744" dy="14.9">口资源的电信运营商是最佳选择。</tspan></text>
<text x="1744" y="3775.4">如何吸引用户自愿接收短信广告？伦敦从事手<tspan x="1744" dy="14.9">机广告的运营商BLYK，用每月217条免费短</tspan><tspan x="1744" dy="14.9">信和43分钟免费电话为代价，换来用户每天</tspan><tspan x="1744" dy="14.9">接受6条短信广告的许可；美国的维珍移动公</tspan><tspan x="1744" dy="14.9">司，用接受一条手机广告换回一分钟免费通话</tspan><tspan x="1744" dy="14.9">的方式，与用户达成谅解协议。④可见，用经</tspan><tspan x="1744" dy="14.9">济补偿的形式来抵消可能对手机用户带来的精</tspan><tspan x="1744" dy="14.9">神骚扰，不失为吸引直告群体的有效方法。在</tspan><tspan x="1744" dy="14.9">以电信运营商为主导型中介的短信广告产业模</tspan><tspan x="1744" dy="14.9">式中，"补偿"的工作自然由运营商负责。例如</tspan><tspan x="1744" dy="14.9">，移动公司可与愿意接收广告的用户签订协议</tspan><tspan x="1744" dy="14.9">，作为报酬按月给予他们一定数量的话费返还</tspan><tspan x="1744" dy="14.9">，或者其他形式的优惠措施。这种建立在自愿</tspan><tspan x="1744" dy="14.9">互惠基础上的短信广告协议，不仅保证了短信</tspan><tspan x="1744" dy="14.9">广告投放的合理合法性，也容易获得广告接收</tspan><tspan x="1744" dy="14.9">者的好感进而提升广告效果。</tspan></text>
<text x="1744" y="4049.4">精准投放走向协议化。此次"短信门"事件凸显<tspan x="1744" dy="14.9">了"分众式"的精准营销模式与个人信息安全保</tspan><tspan x="1744" dy="14.9">护的严重对立，但这并不表示短信广告细分用</tspan><tspan x="1744" dy="14.9">户、精准投放的本质优势与短信广告规范运作</tspan><tspan x="1744" dy="14.9">之间存在根本的对立。目前，饱受非议的用户</tspan><tspan x="1744" dy="14.9">细分方式是通过非正规渠道获取用户信息，而</tspan><tspan x="1744" dy="14.9">如果从手机用户对广告类型的需求出发，变被</tspan><tspan x="1744" dy="14.9">动细分为按需所取，即用户对哪类广告感兴趣</tspan><tspan x="1744" dy="14.9">就对他投放哪类广告。而用户的兴趣取向、阅</tspan><tspan x="1744" dy="14.9">读广告后的反馈、潜在的消费心理等都可以作</tspan><tspan x="1744" dy="14.9">为数据积累，纳入广告代理商的受众属性分析</tspan><tspan x="1744" dy="14.9">库。这样，不仅手机用户不会对广告感到反感</tspan><tspan x="1744" dy="14.9">，广告代理商也可逐步掌握受众的资料而最终</tspan><tspan x="1744" dy="14.9">实现精准投放，形成一种良性循环。</tspan></text>
<text x="1744" y="4295.4">这种以用户需求为导向的广告细分投放仍旧要<tspan x="1744" dy="14.9">依赖电信运营商的中介作用。对于愿意接收短</tspan><tspan x="1744" dy="14.9">信广告的直告群体，电信运营商可进一步与他</tspan><tspan x="1744" dy="14.9">们约定投放广告的类别。另一方面，电信运营</tspan><tspan x="1744" dy="14.9">商还需与短信广告代理商签订协议，平衡好双</tspan><tspan x="1744" dy="14.9">方的供需关系。并且如果用户的兴趣发生改变</tspan><tspan x="1744" dy="14.9">，另一方的广告提供也应随之改变。</tspan></text>
<text x="1744" y="4435.4">逐级监管杜绝短信广告垃圾化。针对目前手机<tspan x="1744" dy="14.9">广告市场出现的虚假、诈骗和骚扰问题，以及</tspan><tspan x="1744" dy="14.9">广告代理商违背协议不按用户需求投放广告的</tspan><tspan x="1744" dy="14.9">情况，必须采取逐级监管管理的措施。首先，</tspan><tspan x="1744" dy="14.9">电信运营商可以根据用户的举报和投诉，对涉</tspan><tspan x="1744" dy="14.9">及发送垃圾短信的SP商、广告代理商进行警</tspan><tspan x="1744" dy="14.9">告，甚至收回其端口租用权。当然，要发挥运</tspan><tspan x="1744" dy="14.9">营商彻底有效的监管作用，还需要国家工业信</tspan><tspan x="1744" dy="14.9">息部门推动相关立法的完善，明确电信运营商</tspan><tspan x="1744" dy="14.9">的监管权力。</tspan></text>
<text x="1744" y="4620.4">其次，作为既得利益者，运营商本身也需要受<tspan x="1744" dy="14.9">到监管。国家工业信息部门一方面要推进《电</tspan><tspan x="1744" dy="14.9">信法》尽快出台，制定详细的电信增值业务行</tspan><tspan x="1744" dy="14.9">业规范；另一方面可利用多家运营商相互竞争</tspan><tspan x="1744" dy="14.9">的局面，来防范制约他们获取非法垄断利润。</tspan><tspan x="1744" dy="14.9">此外，工商部门也可介入手机用户被垃圾短信</tspan><tspan x="1744" dy="14.9">骚扰的维权行动，配合电信行业职能部门共同</tspan><tspan x="1744" dy="14.9">发挥监管作用。</tspan></text>
<text x="1744" y="4849.4">注释：</text>
<text x="1812" y="4776.4">①朱光强：《分众无线的尴尬挣扎疯狂扩张埋<tspan x="1812" dy="14.9">下祸根》，华夏时报。</tspan></text>
<text x="1812" y="4843.4">②③谢明珠：《从"准告"谈起一解读手机短信<tspan x="1812" dy="14.9">广告现状》，《今传媒》，2007（9）。</tspan></text>
<text x="1812" y="4908.4">④陈冰：《短信广告我不得不看，运营商不能<tspan x="1812" dy="14.9">不补》，《新京报》。</tspan></text>
</g>
</g>
</svg>
